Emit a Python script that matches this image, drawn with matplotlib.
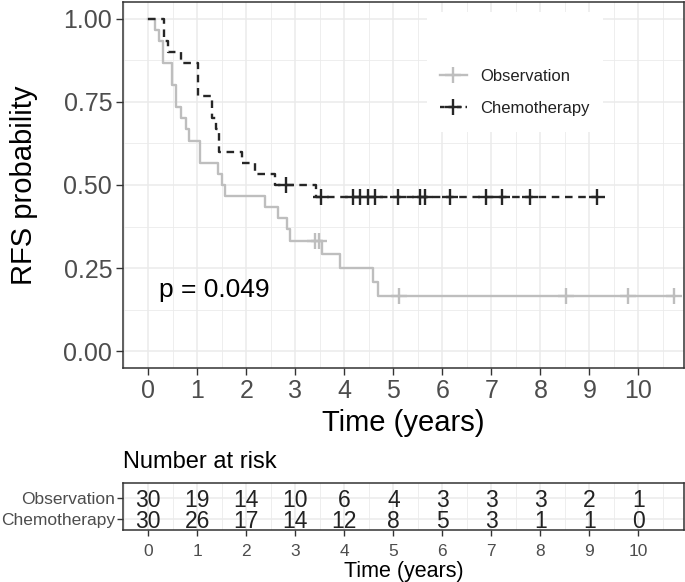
import numpy as np
import matplotlib
matplotlib.use('Agg')
import matplotlib.pyplot as plt
from matplotlib.lines import Line2D
from matplotlib.patches import Rectangle
from matplotlib.ticker import MultipleLocator

plt.rcParams['font.family'] = ['Liberation Sans', 'DejaVu Sans']

# Kaplan-Meier steps
obs_time = [0, 0.14, 0.22, 0.31, 0.49, 0.56, 0.66, 0.77, 0.84, 1.05, 1.43, 1.50, 1.56,
            2.38, 2.65, 2.82, 2.90, 3.54, 3.91, 4.58, 4.68, 10.73]
obs_surv = [1.0, 0.967, 0.933, 0.867, 0.800, 0.733, 0.700, 0.667, 0.633, 0.567, 0.533, 0.500, 0.467,
            0.433, 0.400, 0.367, 0.333, 0.292, 0.250, 0.208, 0.167, 0.167]
obs_cens_time = [3.40, 3.48, 5.12, 8.53, 9.79, 10.73]
obs_cens_surv = [0.333, 0.333, 0.167, 0.167, 0.167, 0.167]

chemo_time = [0, 0.32, 0.41, 0.66, 1.01, 1.30, 1.38, 1.45, 1.91, 2.18, 2.58, 3.42, 9.15]
chemo_surv = [1.0, 0.933, 0.900, 0.867, 0.767, 0.700, 0.667, 0.600, 0.567, 0.533, 0.500, 0.464, 0.464]
chemo_cens_time = [2.80, 3.52, 4.18, 4.32, 4.49, 4.62, 5.10, 5.54, 5.64, 6.15, 6.90, 7.21, 7.79, 9.15]
chemo_cens_surv = [0.500, 0.464, 0.464, 0.464, 0.464, 0.464, 0.464, 0.464, 0.464, 0.464,
                   0.464, 0.464, 0.464, 0.464]

# number at risk table
risk_times = list(range(11))
obs_risk = [30, 19, 14, 10, 6, 4, 3, 3, 3, 2, 1]
chemo_risk = [30, 26, 17, 14, 12, 8, 5, 3, 1, 1, 0]
groups = ['Observation', 'Chemotherapy']

obs_color = '#BEBEBE'
chemo_color = '#262626'
grid_color = '#EBEBEB'
border_color = '#333333'
tick_color = '#4D4D4D'

W, H = 685, 582
fig = plt.figure(figsize=(W / 100, H / 100), dpi=100)

left, right = 123.3, 684
ax = fig.add_axes([left / W, 1 - 368 / H, (right - left) / W, 366 / H])
xlim = (-0.51, 10.93)
ax.set_xlim(*xlim)
ax.set_ylim(-0.05, 1.05)


def style_grid(a, ygrid=True):
    a.set_axisbelow(True)
    a.xaxis.set_major_locator(MultipleLocator(1))
    a.xaxis.set_minor_locator(MultipleLocator(0.5))
    a.grid(True, which='major', axis='x', color=grid_color, lw=1.1)
    a.grid(True, which='minor', axis='x', color=grid_color, lw=0.6)
    if ygrid:
        a.grid(True, which='major', axis='y', color=grid_color, lw=1.1)
        a.grid(True, which='minor', axis='y', color=grid_color, lw=0.6)
    for s in a.spines.values():
        s.set_color(border_color)
        s.set_linewidth(1.1)
    a.tick_params(which='minor', length=0)


ax.yaxis.set_major_locator(MultipleLocator(0.25))
ax.yaxis.set_minor_locator(MultipleLocator(0.125))
ax.yaxis.set_major_formatter(matplotlib.ticker.FormatStrFormatter('%.2f'))
style_grid(ax)
ax.tick_params(which='major', length=5, width=1.0, color=border_color,
               labelcolor=tick_color, labelsize=18, pad=3)

# white legend background covering the grid
ax.add_patch(Rectangle((0.5417, 0.6448), 0.3138, 0.328, transform=ax.transAxes,
                       facecolor='white', edgecolor='none', zorder=1.5))

ax.step(obs_time, obs_surv, where='post', color=obs_color, lw=1.7, zorder=3)
ax.plot(obs_cens_time, obs_cens_surv, '+', color=obs_color, ms=11, mew=1.7, zorder=3)
ax.step(chemo_time, chemo_surv, where='post', color=chemo_color, lw=1.7,
        ls=(0, (3.2, 2.4)), zorder=4)
ax.plot(chemo_cens_time, chemo_cens_surv, '+', color=chemo_color, ms=11, mew=1.7, zorder=4)

ax.text(0.22, 0.162, 'p = 0.049', fontsize=19, ha='left', va='baseline', color='black')

handles = [Line2D([], [], color=obs_color, lw=1.7, marker='+', ms=11, mew=1.7),
           Line2D([], [], color=chemo_color, lw=1.7, ls=(0, (2.0, 1.6)), marker='+', ms=11, mew=1.7)]
leg = ax.legend(handles, groups, loc='upper left', bbox_to_anchor=(0.565, 0.818),
                frameon=False, fontsize=12, handlelength=1.6, handletextpad=0.8,
                labelspacing=1.02, borderpad=0, borderaxespad=0)
for t in leg.get_texts():
    t.set_color('#222222')

fig.text(24 / W, 1 - 185 / H, 'RFS probability', rotation=90, fontsize=21,
         ha='center', va='center')
fig.text((left + right) / 2 / W, 1 - 423 / H, 'Time (years)', fontsize=21,
         ha='center', va='center')

# risk table
ax2 = fig.add_axes([left / W, 1 - 530 / H, (right - left) / W, 47 / H])
ax2.set_xlim(*xlim)
ax2.set_ylim(-0.52, 1.71)
style_grid(ax2, ygrid=False)
ax2.set_yticks([1, 0])
ax2.set_yticklabels(groups)
ax2.grid(True, which='major', axis='y', color=grid_color, lw=1.1)
ax2.tick_params(which='major', length=4, width=1.0, color=border_color,
                labelcolor=tick_color, pad=2)
ax2.tick_params(axis='y', labelsize=12.5)
ax2.tick_params(axis='x', labelsize=12.5, pad=6)
for t, n in zip(risk_times, obs_risk):
    ax2.text(t, 1, str(n), fontsize=16.5, ha='center', va='center_baseline', color='#222222')
for t, n in zip(risk_times, chemo_risk):
    ax2.text(t, 0, str(n), fontsize=16.5, ha='center', va='center_baseline', color='#222222')

fig.text(left / W, 1 - 462 / H, 'Number at risk', fontsize=17, ha='left', va='center')
fig.text((left + right) / 2 / W, 1 - 571 / H, 'Time (years)', fontsize=15.5,
         ha='center', va='center')

fig.savefig('out.png', dpi=100)
